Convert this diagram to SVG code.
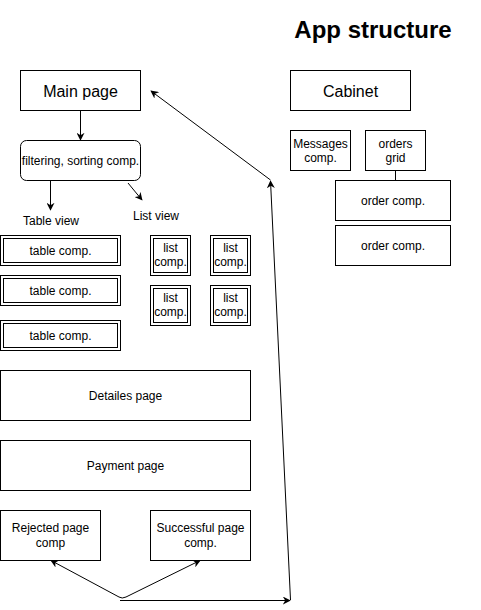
<svg xmlns="http://www.w3.org/2000/svg" width="481" height="610" viewBox="0 0 481 610">
<defs>
<marker id="ah" viewBox="0 0 10 10" refX="9" refY="5" markerWidth="8" markerHeight="8" markerUnits="userSpaceOnUse" orient="auto">
<path d="M0,0 L10,5 L0,10 L3,5 Z" fill="#000"/>
</marker>
</defs>
<style>
.b{fill:#fff;stroke:#000;stroke-width:1}
.t{font-family:"Liberation Sans",Arial,sans-serif;font-size:12px;fill:#000;text-anchor:middle}
.c{fill:none;stroke:#000;stroke-width:1}
</style>
<rect width="481" height="610" fill="#fff"/>
<text x="373" y="38" style="font-family:'Liberation Sans',Arial,sans-serif;font-size:24px;font-weight:bold;text-anchor:middle">App structure</text>
<g id="main"><rect class="b" x="20.5" y="70.5" width="120" height="40"/><text class="t" x="80.5" y="97" style="font-size:16px">Main page</text></g>
<g id="cabinet"><rect class="b" x="290.5" y="70.5" width="120" height="40"/><text class="t" x="350.5" y="97" style="font-size:16px">Cabinet</text></g>
<g id="filter"><rect class="b" x="20.5" y="140.5" width="120" height="40" rx="6"/><text class="t" x="80.5" y="164.5">filtering, sorting comp.</text></g>
<g id="tableview"><text class="t" x="51" y="225">Table view</text></g>
<g id="listview"><text class="t" x="156" y="220">List view</text></g>
<g id="t1"><rect class="b" x="0.5" y="235.5" width="120" height="30"/><rect class="b" x="3.5" y="238.5" width="114" height="24"/><text class="t" x="60.5" y="255">table comp.</text></g>
<g id="t2"><rect class="b" x="0.5" y="275.5" width="120" height="30"/><rect class="b" x="3.5" y="278.5" width="114" height="24"/><text class="t" x="60.5" y="295">table comp.</text></g>
<g id="t3"><rect class="b" x="0.5" y="320.5" width="120" height="30"/><rect class="b" x="3.5" y="323.5" width="114" height="24"/><text class="t" x="60.5" y="340">table comp.</text></g>
<g id="l1"><rect class="b" x="150.5" y="235.5" width="40" height="40"/><rect class="b" x="153.5" y="238.5" width="34" height="34"/><text class="t" x="170.5" y="252">list</text><text class="t" x="170.5" y="266">comp.</text></g>
<g id="l2"><rect class="b" x="210.5" y="235.5" width="40" height="40"/><rect class="b" x="213.5" y="238.5" width="34" height="34"/><text class="t" x="230.5" y="252">list</text><text class="t" x="230.5" y="266">comp.</text></g>
<g id="l3"><rect class="b" x="150.5" y="285.5" width="40" height="40"/><rect class="b" x="153.5" y="288.5" width="34" height="34"/><text class="t" x="170.5" y="302">list</text><text class="t" x="170.5" y="316">comp.</text></g>
<g id="l4"><rect class="b" x="210.5" y="285.5" width="40" height="40"/><rect class="b" x="213.5" y="288.5" width="34" height="34"/><text class="t" x="230.5" y="302">list</text><text class="t" x="230.5" y="316">comp.</text></g>
<g id="details"><rect class="b" x="0.5" y="370.5" width="250" height="50"/><text class="t" x="125.5" y="400">Detailes page</text></g>
<g id="payment"><rect class="b" x="0.5" y="440.5" width="250" height="50"/><text class="t" x="125.5" y="470">Payment page</text></g>
<g id="rejected"><rect class="b" x="0.5" y="510.5" width="100" height="50"/><text class="t" x="50.5" y="532">Rejected page</text><text class="t" x="50.5" y="547">comp</text></g>
<g id="success"><rect class="b" x="150.5" y="510.5" width="100" height="50"/><text class="t" x="200.5" y="532">Successful page</text><text class="t" x="200.5" y="547">comp.</text></g>
<g id="messages"><rect class="b" x="290.5" y="130.5" width="60" height="40"/><text class="t" x="320.5" y="148">Messages</text><text class="t" x="320.5" y="162">comp.</text></g>
<g id="grid"><rect class="b" x="365.5" y="130.5" width="60" height="40"/><text class="t" x="395.5" y="148">orders</text><text class="t" x="395.5" y="162">grid</text></g>
<g id="o1"><rect class="b" x="335.5" y="180.5" width="115" height="40"/><text class="t" x="393" y="205">order comp.</text></g>
<g id="o2"><rect class="b" x="335.5" y="225.5" width="115" height="40"/><text class="t" x="393" y="250">order comp.</text></g>
<g id="connectors">
<line class="c" x1="80.5" y1="110.5" x2="80.5" y2="140" marker-end="url(#ah)"/>
<line class="c" x1="50.5" y1="180.5" x2="50.5" y2="210" marker-end="url(#ah)"/>
<line class="c" x1="128" y1="183" x2="142" y2="200" marker-end="url(#ah)"/>
<line class="c" x1="395.5" y1="170.5" x2="395.5" y2="180.5"/>
<line class="c" x1="120" y1="600.5" x2="290" y2="600.5" marker-end="url(#ah)"/>
<line class="c" x1="290.5" y1="600" x2="270.5" y2="181" marker-end="url(#ah)"/>
<line class="c" x1="270.5" y1="180" x2="151" y2="91" marker-end="url(#ah)"/>
<path class="c" d="M119,597 L51,560.5" marker-end="url(#ah)"/>
<path class="c" d="M119,597 Q122,599 126,597 L200,560.5" marker-end="url(#ah)"/>
</g>
</svg>
